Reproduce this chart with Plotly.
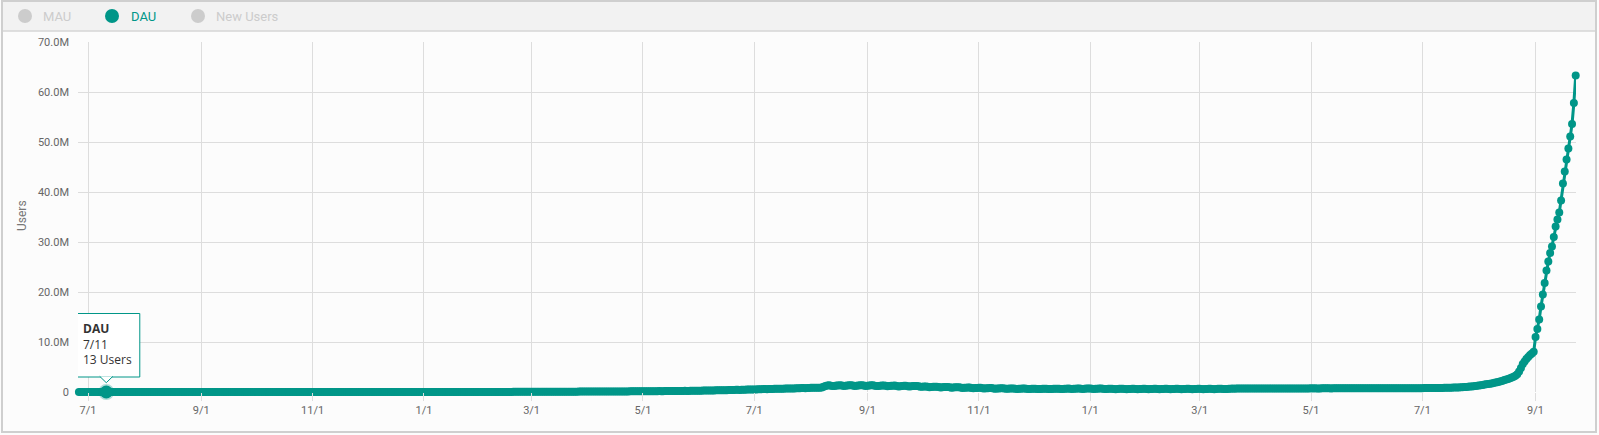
import pandas as pd
import plotly.graph_objects as go

# ---- DAU values in thousands of users, one list per month ----
dau_2018_06 = [0.020, 0.015, 0.018, 0.014, 0.016]  # from 6/26
dau_2018_07 = [0.015, 0.014, 0.016, 0.012, 0.013, 0.017, 0.018, 0.014, 0.012, 0.013,
               0.013, 0.015, 0.016, 0.019, 0.020, 0.016, 0.015, 0.014, 0.016, 0.018,
               0.021, 0.020, 0.017, 0.016, 0.015, 0.017, 0.019, 0.022, 0.021, 0.018, 0.017]
dau_2018_08 = [0.02, 0.02, 0.03, 0.03, 0.02, 0.02, 0.02, 0.03, 0.03, 0.04,
               0.04, 0.03, 0.03, 0.03, 0.03, 0.04, 0.04, 0.05, 0.05, 0.04,
               0.04, 0.04, 0.04, 0.05, 0.05, 0.06, 0.06, 0.05, 0.05, 0.05, 0.05]
dau_2018_09 = [0.06, 0.07, 0.06, 0.06, 0.06, 0.06, 0.07, 0.08, 0.08, 0.07,
               0.07, 0.07, 0.07, 0.08, 0.09, 0.09, 0.08, 0.08, 0.08, 0.08,
               0.09, 0.10, 0.10, 0.09, 0.09, 0.09, 0.09, 0.10, 0.11, 0.11]
dau_2018_10 = [0.10, 0.10, 0.10, 0.11, 0.12, 0.13, 0.13, 0.12, 0.12, 0.12,
               0.13, 0.14, 0.15, 0.15, 0.14, 0.14, 0.14, 0.15, 0.16, 0.17,
               0.17, 0.16, 0.16, 0.16, 0.17, 0.18, 0.19, 0.19, 0.18, 0.18, 0.18]
dau_2018_11 = [0.2, 0.2, 0.3, 0.3, 0.2, 0.2, 0.3, 0.3, 0.3, 0.4,
               0.4, 0.3, 0.3, 0.4, 0.4, 0.5, 0.5, 0.4, 0.4, 0.5,
               0.5, 0.6, 0.7, 0.7, 0.6, 0.6, 0.7, 0.7, 0.8, 0.8]
dau_2018_12 = [0.9, 0.9, 0.8, 0.9, 1.0, 1.1, 1.2, 1.2, 1.1, 1.1,
               1.2, 1.3, 1.4, 1.5, 1.5, 1.4, 1.5, 1.6, 1.8, 1.9,
               2.0, 2.1, 2.3, 2.5, 2.6, 2.6, 2.5, 2.6, 2.8, 3.0, 3.1]
dau_2019_01 = [3.2, 3.3, 3.5, 3.8, 4.1, 4.0, 3.9, 4.2, 4.5, 4.8,
               5.2, 5.6, 5.4, 5.3, 5.7, 6.1, 6.6, 7.1, 7.5, 7.2,
               7.0, 7.6, 8.2, 8.8, 9.5, 10.1, 9.8, 9.6, 10.4, 11.2, 12.0]
dau_2019_02 = [13.0, 13.8, 13.4, 13.2, 14.3, 15.5, 16.6, 17.8, 18.9, 18.4,
               18.1, 19.5, 21.0, 22.4, 23.9, 25.0, 24.3, 23.8, 25.6, 27.4,
               29.1, 30.8, 32.3, 31.4, 30.9, 33.0, 35.2, 37.4]
dau_2019_03 = [39.5, 41.6, 40.5, 39.8, 42.3, 44.9, 47.4, 49.8, 52.1, 50.7,
               49.8, 52.6, 55.5, 58.2, 60.8, 63.3, 61.6, 60.4, 63.4, 66.4,
               69.2, 71.8, 74.3, 72.3, 70.9, 73.9, 76.9, 79.7, 82.3, 84.8, 82.6]
dau_2019_04 = [85.4, 88.1, 90.7, 93.2, 95.6, 97.9, 95.4, 94.0, 97.5, 100.9,
               104.2, 107.4, 110.5, 107.7, 106.1, 109.9, 113.6, 117.2, 120.7, 124.1,
               121.0, 119.2, 123.6, 127.9, 132.1, 136.2, 140.2, 136.7, 134.7, 139.8]
dau_2019_05 = [145.0, 150.1, 155.0, 151.2, 149.0, 155.1, 161.0, 166.8, 172.4, 177.9,
               173.5, 171.0, 177.6, 184.0, 190.2, 196.2, 202.0, 197.0, 194.2, 201.7,
               209.0, 216.1, 223.0, 229.7, 224.0, 220.8, 229.3, 237.5, 245.5, 253.3, 260.9]
dau_2019_06 = [270, 266, 278, 290, 301, 312, 322, 317, 313, 326,
               339, 351, 363, 374, 368, 364, 379, 394, 408, 421,
               434, 427, 423, 440, 456, 471, 486, 500, 493, 489]
dau_2019_07 = [510, 524, 537, 551, 566, 582, 576, 571, 587, 603,
               618, 632, 648, 641, 636, 653, 669, 684, 698, 716,
               709, 703, 721, 738, 754, 770, 788, 780, 774, 792, 808]
dau_2019_08 = [830, 850, 870, 860, 850, 875, 900, 1050, 1200, 1280,
               1330, 1250, 1180, 1220, 1280, 1320, 1360, 1280, 1200, 1240,
               1300, 1340, 1370, 1290, 1210, 1250, 1310, 1350, 1370, 1290, 1210]
dau_2019_09 = [1250, 1300, 1330, 1340, 1260, 1180, 1220, 1270, 1300, 1310,
               1230, 1150, 1190, 1240, 1270, 1280, 1200, 1120, 1160, 1210,
               1240, 1250, 1170, 1090, 1130, 1180, 1210, 1220, 1140, 1060]
dau_2019_10 = [1060, 1100, 1120, 1040, 960, 990, 1030, 1060, 1070, 990,
               910, 940, 980, 1010, 1010, 930, 860, 890, 930, 950,
               950, 880, 810, 840, 870, 890, 890, 820, 760, 790, 820]
dau_2019_11 = [830, 830, 760, 700, 730, 760, 780, 780, 720, 660,
               690, 720, 740, 740, 680, 630, 660, 690, 700, 700,
               650, 600, 630, 660, 680, 680, 630, 590, 620, 650]
dau_2019_12 = [670, 670, 620, 580, 610, 640, 660, 670, 620, 580,
               610, 640, 660, 670, 630, 590, 620, 650, 670, 680,
               640, 600, 630, 660, 690, 700, 660, 620, 650, 680, 700]
dau_2020_01 = [700, 660, 610, 640, 670, 690, 690, 640, 590, 620,
               650, 670, 670, 620, 570, 600, 630, 650, 650, 600,
               560, 590, 620, 640, 640, 590, 550, 580, 610, 630, 630]
dau_2020_02 = [590, 552, 578, 612, 628, 634, 588, 548, 582, 606,
               632, 626, 592, 554, 576, 614, 630, 636, 586, 552,
               584, 608, 634, 628, 594, 556, 586, 616, 636]
dau_2020_03 = [632, 590, 560, 590, 620, 640, 645, 600, 570, 600,
               630, 650, 655, 615, 590, 620, 650, 670, 680, 670,
               676, 680, 684, 688, 690, 692, 694, 696, 698, 700, 702]
dau_2020_04 = [703, 706, 704, 708, 712, 709, 705, 707, 711, 714,
               712, 716, 713, 709, 711, 715, 718, 716, 720, 717,
               713, 715, 719, 722, 720, 724, 721, 717, 719, 723]
dau_2020_05 = [726, 724, 728, 725, 721, 723, 727, 730, 728, 732,
               729, 725, 727, 731, 734, 732, 736, 733, 729, 731,
               735, 738, 736, 740, 737, 733, 735, 739, 742, 740, 744]
dau_2020_06 = [741, 737, 739, 743, 746, 744, 748, 745, 741, 744,
               748, 752, 750, 755, 752, 748, 751, 756, 760, 758,
               763, 760, 756, 760, 765, 770, 768, 774, 771, 767]
dau_2020_07 = [775, 780, 786, 784, 792, 790, 786, 795, 804, 812,
               812, 822, 830, 828, 845, 860, 875, 882, 900, 915,
               922, 945, 965, 990, 1010, 1045, 1080, 1115, 1150, 1190, 1230]
dau_2020_08 = [1290, 1350, 1420, 1480, 1530, 1580, 1640, 1720, 1800, 1880,
               1960, 2050, 2150, 2260, 2380, 2500, 2620, 2760, 2900, 3050,
               3250, 3550, 4100, 4800, 5600, 6100, 6600, 7000, 7400, 7700, 8050]
dau_2020_09 = [11000, 12600, 14500, 17100, 19500, 21800, 24300, 26100, 27800, 29100,
               31000, 33100, 34500, 35900, 38300, 41700, 44100, 46500, 48700, 51100,
               53600, 57800, 63300]

month_starts = ["2018-06-26", "2018-07-01", "2018-08-01", "2018-09-01", "2018-10-01",
                "2018-11-01", "2018-12-01", "2019-01-01", "2019-02-01", "2019-03-01",
                "2019-04-01", "2019-05-01", "2019-06-01", "2019-07-01", "2019-08-01",
                "2019-09-01", "2019-10-01", "2019-11-01", "2019-12-01", "2020-01-01",
                "2020-02-01", "2020-03-01", "2020-04-01", "2020-05-01", "2020-06-01",
                "2020-07-01", "2020-08-01", "2020-09-01"]
month_values = [dau_2018_06, dau_2018_07, dau_2018_08, dau_2018_09, dau_2018_10,
                dau_2018_11, dau_2018_12, dau_2019_01, dau_2019_02, dau_2019_03,
                dau_2019_04, dau_2019_05, dau_2019_06, dau_2019_07, dau_2019_08,
                dau_2019_09, dau_2019_10, dau_2019_11, dau_2019_12, dau_2020_01,
                dau_2020_02, dau_2020_03, dau_2020_04, dau_2020_05, dau_2020_06,
                dau_2020_07, dau_2020_08, dau_2020_09]

y_tick_vals = [0, 10e6, 20e6, 30e6, 40e6, 50e6, 60e6, 70e6]
y_tick_text = ["0", "10.0M", "20.0M", "30.0M", "40.0M", "50.0M", "60.0M", "70.0M"]

legend_names = ["MAU", "DAU", "New Users"]
tooltip_date = "2018-07-11"
tooltip_users = 13

dates, users = [], []
for start, vals in zip(month_starts, month_values):
    d = pd.date_range(start, periods=len(vals), freq="D")
    dates.extend(list(d))
    users.extend([v * 1000 for v in vals])

TEAL = "#009688"
GREY = "#cccccc"

W, H = 1599, 435
L, R, T, B = 78, 23, 42, 43
PW, PH = W - L - R, H - T - B


def px(xp):
    return (xp - L) / PW


def py(yp):
    return (H - B - yp) / PH


fig = go.Figure()
fig.add_trace(go.Scatter(
    x=dates, y=users, mode="lines+markers", name="DAU",
    line=dict(color=TEAL, width=3),
    marker=dict(color=TEAL, size=8),
    cliponaxis=False, hoverinfo="skip", showlegend=False))

# highlighted (hovered) point
tip_idx = [i for i, d in enumerate(dates) if d == pd.Timestamp(tooltip_date)][0]
fig.add_trace(go.Scatter(
    x=[dates[tip_idx]], y=[users[tip_idx]], mode="markers",
    marker=dict(color=TEAL, size=13, line=dict(color="rgba(0,150,136,0.3)", width=3)),
    cliponaxis=False, hoverinfo="skip", showlegend=False))

shapes = []
# outer frame
shapes.append(dict(type="rect", xref="paper", yref="paper",
                   x0=px(2), x1=px(1596), y0=py(432), y1=py(1),
                   line=dict(color="#cfcfcf", width=2), fillcolor="rgba(0,0,0,0)", layer="below"))
# legend bar
shapes.append(dict(type="rect", xref="paper", yref="paper",
                   x0=px(3), x1=px(1595), y0=py(31), y1=py(2),
                   line=dict(width=0), fillcolor="#f2f2f2", layer="below"))
shapes.append(dict(type="line", xref="paper", yref="paper",
                   x0=px(3), x1=px(1595), y0=py(31), y1=py(31),
                   line=dict(color="#d6d6d6", width=1.5), layer="below"))

annotations = []
legend_cx = [25, 112, 198]
legend_tx = [41, 129, 214]
for name, cx, tx in zip(legend_names, legend_cx, legend_tx):
    col = TEAL if name == "DAU" else GREY
    shapes.append(dict(type="circle", xref="paper", yref="paper",
                       x0=px(cx - 7), x1=px(cx + 7), y0=py(16 + 7), y1=py(16 - 7),
                       line=dict(width=0), fillcolor=col))
    annotations.append(dict(xref="paper", yref="paper", x=px(tx), y=py(16),
                            xanchor="left", yanchor="middle", showarrow=False,
                            text=name, font=dict(size=13, color=col, family="Roboto")))

# tooltip box anchored at the hovered point
shapes.append(dict(type="rect", xref="x", yref="y", xsizemode="pixel", ysizemode="pixel",
                   xanchor=dates[tip_idx], yanchor=users[tip_idx],
                   x0=-33.5, x1=33.5, y0=15, y1=78.5,
                   line=dict(color=TEAL, width=1), fillcolor="white", layer="above"))
shapes.append(dict(type="path", xref="x", yref="y", xsizemode="pixel", ysizemode="pixel",
                   xanchor=dates[tip_idx], yanchor=users[tip_idx],
                   path="M -6.5,15.6 L 0,9.3 L 6.5,15.6",
                   line=dict(color=TEAL, width=1), fillcolor="white", layer="above"))
annotations.append(dict(xref="x", yref="y", x=dates[tip_idx], y=users[tip_idx],
                        xanchor="left", yanchor="middle", xshift=-25, yshift=48,
                        showarrow=False, align="left",
                        text="<b>DAU</b><br>%s<br>%d Users" % ("7/11", tooltip_users),
                        font=dict(size=12, color="#333333", family="Open Sans")))

# y-axis title
annotations.append(dict(xref="paper", yref="paper", x=px(22), y=py(216),
                        xanchor="center", yanchor="middle", textangle=-90, showarrow=False,
                        text="Users", font=dict(size=12, color="#777777", family="Roboto")))

fig.update_layout(
    width=W, height=H,
    margin=dict(l=L, r=R, t=T, b=B),
    paper_bgcolor="#fcfcfc", plot_bgcolor="#fcfcfc",
    showlegend=False,
    shapes=shapes, annotations=annotations,
    font=dict(family="Roboto", size=11, color="#666666"),
)
fig.update_xaxes(
    type="date", range=["2018-06-25 12:00", "2020-09-23 04:00"],
    tick0="2018-07-01", dtick="M2", tickformat="%-m/%-d",
    showgrid=True, gridcolor="#dddddd", gridwidth=1,
    ticks="outside", ticklen=8, tickcolor="#dddddd",
    showline=False, zeroline=False,
    tickfont=dict(size=11, color="#666666"),
)
fig.update_yaxes(
    range=[0, 70e6], tickvals=y_tick_vals, ticktext=y_tick_text,
    showgrid=True, gridcolor="#dddddd", gridwidth=1,
    zeroline=False, showline=False, ticks="",
    ticklabelstandoff=8,
    tickfont=dict(size=11, color="#666666"),
)

fig.write_html("out.html", config={"displayModeBar": False},
               post_script="document.body.style.margin='0';document.body.style.overflow='hidden';")
